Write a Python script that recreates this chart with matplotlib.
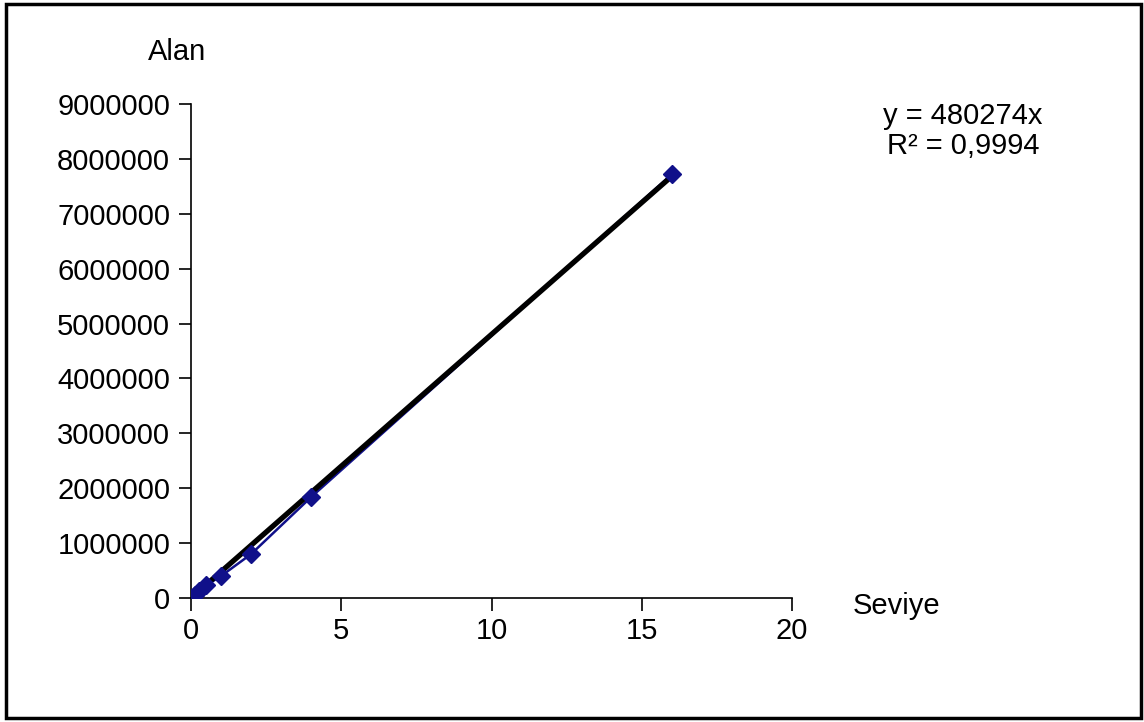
import matplotlib.pyplot as plt
import numpy as np
from matplotlib.patches import Rectangle

plt.rcParams['font.family'] = ['Liberation Sans', 'DejaVu Sans']

# calibration data (Seviye vs Alan)
seviye = [0.125, 0.25, 0.5, 1, 2, 4, 16]
alan = [60000, 120000, 230000, 400000, 800000, 1840000, 7720000]
slope = 480274
x_ticks = [0, 5, 10, 15, 20]
y_ticks = [0, 1000000, 2000000, 3000000, 4000000, 5000000, 6000000, 7000000, 8000000, 9000000]

fig = plt.figure(figsize=(11.44, 7.22), dpi=100)
ax = fig.add_axes([191 / 1144, 1 - 598 / 722, 601 / 1144, 494 / 722])

xs = np.array(seviye)
ax.plot(seviye, alan, color='#10108a', linewidth=1.8, zorder=2)
ax.plot([xs.min(), xs.max()], [slope * xs.min(), slope * xs.max()],
        color='black', linewidth=3.8, zorder=3, solid_capstyle='butt')
ax.plot(seviye, alan, linestyle='none', marker='D', markersize=9,
        color='#10108a', zorder=4)

ax.set_xlim(0, 20)
ax.set_ylim(0, 9000000)
ax.set_xticks(x_ticks)
ax.set_yticks(y_ticks)
ax.set_yticklabels([str(v) for v in y_ticks])
ax.tick_params(axis='both', direction='out', length=9, width=1.2,
               labelsize=21, pad=5, color='black')
ax.tick_params(axis='y', pad=6)
for side in ['top', 'right']:
    ax.spines[side].set_visible(False)
for side in ['left', 'bottom']:
    ax.spines[side].set_linewidth(1.2)

fig.text(177 / 1144, 1 - 52 / 722, 'Alan', fontsize=21, ha='center', va='center')
fig.text(897 / 1144, 1 - 606 / 722, 'Seviye', fontsize=21, ha='center', va='center')
fig.text(963 / 1144, 1 - 131 / 722, 'y = 480274x\nR² = 0,9994', fontsize=21,
         ha='center', va='center', linespacing=1.1)

fig.patches.append(Rectangle((0.005, 0.006), 0.992, 0.989, transform=fig.transFigure,
                             fill=False, edgecolor='black', linewidth=2.5))

fig.savefig('out.png', dpi=100)
